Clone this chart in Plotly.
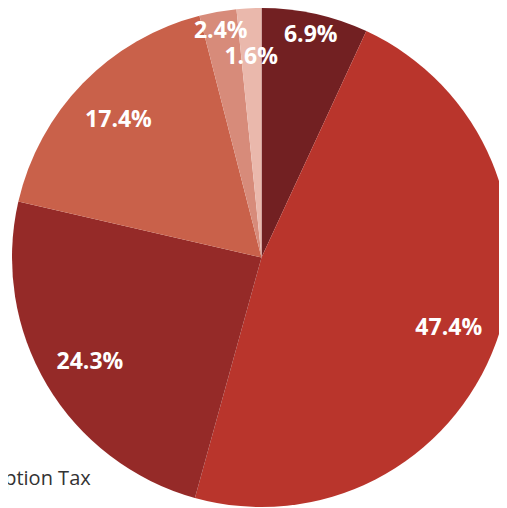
import plotly.graph_objects as go

labels = ["Consumption Tax", "Fuel Tax", "Corporate Tax", "Inheritance Tax", "Customs Duty", "Other Taxes"]
values = [6.9, 47.4, 24.3, 17.4, 2.4, 1.6]
colors = ["#722022", "#B9352C", "#952A28", "#C9614A", "#D78B7A", "#EAB8AC"]
# label placement ring for each slice: "mid" (0.8 R), "rim" (near edge), "inner" (tiny slice, 0.8 R)
label_ring = ["rim", "mid", "mid", "mid", "rim", "inner"]

pct = [f"{v:.1f}%" for v in values]


def texts_for(ring):
    return [t if r == ring else "" for t, r in zip(pct, label_ring)]


label_font = dict(family="Open Sans", size=23, color="white", weight="bold")
clear = ["rgba(0,0,0,0)"] * len(values)
inner_dom = [0.0731, 0.9269]

fig = go.Figure()
fig.add_trace(go.Pie(
    labels=labels, values=values, sort=False, direction="clockwise", rotation=0,
    marker=dict(colors=colors, line=dict(width=0)),
    textinfo="none", hoverinfo="label+percent",
))
for ring, hole, dom in [("mid", 0.6, [0, 1]), ("rim", 0.84, [0, 1]), ("inner", 0.5, inner_dom)]:
    fig.add_trace(go.Pie(
        labels=labels, values=values, sort=False, direction="clockwise", rotation=0,
        hole=hole, domain=dict(x=dom, y=dom),
        marker=dict(colors=clear, line=dict(width=0)),
        text=texts_for(ring), textinfo="text", textposition="inside",
        insidetextorientation="horizontal", textfont=label_font,
        hoverinfo="skip", showlegend=False,
    ))

fig.update_layout(
    width=503, height=508,
    margin=dict(l=4, r=0, t=0, b=9, autoexpand=False),
    paper_bgcolor="white",
    showlegend=True,
    legend=dict(
        x=-0.2505, y=0.0992, xanchor="left", yanchor="top",
        font=dict(family="Open Sans", size=20, color="#333333"),
    ),
    uniformtext=dict(minsize=23, mode="show"),
)

fig.write_html("out.html")
